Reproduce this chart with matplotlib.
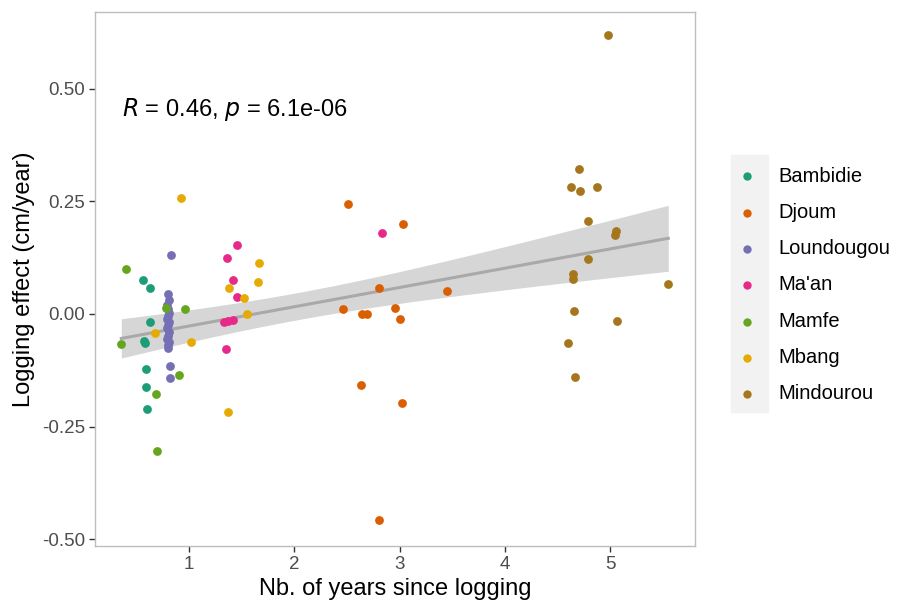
import numpy as np
import matplotlib as mpl
import matplotlib.pyplot as plt
from matplotlib.patches import Rectangle
mpl.use('agg')

plt.rcParams['font.family'] = ['Liberation Sans', 'DejaVu Sans']

##--##--  data  --##--##
sites = ['Bambidie', 'Djoum', 'Loundougou', "Ma'an", 'Mamfe', 'Mbang', 'Mindourou']
site_colors = ['#1B9E77', '#D95F02', '#7570B3', '#E7298A', '#66A61E', '#E6AB02', '#A6761D']

bambidie_x = [0.561, 0.631, 0.631, 0.580, 0.575, 0.586, 0.586, 0.599]
bambidie_y = [0.075, 0.058, -0.018, -0.064, -0.060, -0.122, -0.162, -0.210]

djoum_x = [2.513, 3.029, 2.804, 3.451, 2.459, 2.640, 2.690, 2.956, 3.007, 2.633, 3.020, 2.801]
djoum_y = [0.243, 0.199, 0.058, 0.050, 0.010, -0.001, -0.001, 0.013, -0.011, -0.158, -0.198, -0.458]

loundougou_x = [0.827, 0.80, 0.81, 0.79, 0.80, 0.81, 0.80, 0.79, 0.81, 0.80, 0.79, 0.81,
                0.80, 0.79, 0.81, 0.80, 0.80, 0.814, 0.814]
loundougou_y = [0.130, 0.045, 0.030, 0.020, 0.010, 0.003, -0.005, -0.012, -0.018, -0.025,
                -0.032, -0.040, -0.048, -0.055, -0.062, -0.070, -0.075, -0.115, -0.143]

maan_x = [1.454, 1.362, 1.419, 1.454, 1.334, 1.372, 1.413, 1.347, 2.833]
maan_y = [0.152, 0.124, 0.075, 0.038, -0.017, -0.015, -0.013, -0.077, 0.179]

mamfe_x = [0.402, 0.779, 0.957, 0.355, 0.906, 0.681, 0.694]
mamfe_y = [0.099, 0.014, 0.012, -0.066, -0.136, -0.178, -0.305]

mbang_x = [0.919, 1.667, 1.657, 1.375, 1.521, 1.546, 0.678, 1.020, 1.366]
mbang_y = [0.258, 0.112, 0.071, 0.058, 0.036, -0.001, -0.043, -0.063, -0.218]

mindourou_x = [4.978, 4.702, 4.632, 4.715, 4.879, 4.788, 5.060, 5.050, 4.794, 4.645, 4.645,
               5.554, 4.655, 5.063, 4.604, 4.668]
mindourou_y = [0.618, 0.321, 0.282, 0.273, 0.282, 0.206, 0.183, 0.175, 0.121, 0.089, 0.077,
               0.067, 0.007, -0.015, -0.065, -0.139]

xs = [bambidie_x, djoum_x, loundougou_x, maan_x, mamfe_x, mbang_x, mindourou_x]
ys = [bambidie_y, djoum_y, loundougou_y, maan_y, mamfe_y, mbang_y, mindourou_y]

x_ticks = [1, 2, 3, 4, 5]
y_ticks = [-0.50, -0.25, 0.00, 0.25, 0.50]
y_ticklabels = ['-0.50', '-0.25', '0.00', '0.25', '0.50']

## linear fit + 95% confidence band
all_x = np.concatenate([np.array(v) for v in xs])
all_y = np.concatenate([np.array(v) for v in ys])
n = len(all_x)
slope, icpt = np.polyfit(all_x, all_y, 1)
resid = all_y - (icpt + slope * all_x)
s_err = np.sqrt(np.sum(resid ** 2) / (n - 2))
xx = np.linspace(all_x.min(), all_x.max(), 100)
yy = icpt + slope * xx
se = s_err * np.sqrt(1.0 / n + (xx - all_x.mean()) ** 2 / np.sum((all_x - all_x.mean()) ** 2))
t_crit = 1.99


##--##--##--  create figure  --##--##--##
fig = plt.figure(figsize=(8.99, 6.01), dpi=100)
ax = fig.add_axes([95 / 899, 1 - 546 / 601, 600 / 899, 534 / 601])

ax.fill_between(xx, yy - t_crit * se, yy + t_crit * se, color='#D6D6D6', lw=0, zorder=1)
ax.plot(xx, yy, color='#A9A9A9', lw=2.2, zorder=2)

for name, col, x, y in zip(sites, site_colors, xs, ys):
    ax.scatter(x, y, s=40, color=col, lw=0, label=name, zorder=3)

ax.set_xlim(0.105, 5.808)
ax.set_ylim(-0.515, 0.670)
ax.set_xticks(x_ticks)
ax.set_yticks(y_ticks)
ax.set_yticklabels(y_ticklabels)
ax.tick_params(axis='both', length=4, width=1.0, color='#333333', labelcolor='#4D4D4D',
               labelsize=13.5, pad=3)
for sp in ax.spines.values():
    sp.set_color('#BDBDBD')
    sp.set_linewidth(1.0)

ax.set_xlabel('Nb. of years since logging', fontsize=17, labelpad=4)
ax.set_ylabel('Logging effect (cm/year)', fontsize=17, labelpad=5)

ax.text(0.045, 0.817, r'$\it{R}$ = 0.46, $\it{p}$ = 6.1e-06', transform=ax.transAxes,
        fontsize=17, va='center', ha='left')

## legend, with grey key column
fig.patches.append(Rectangle((731 / 899, 1 - 412 / 601), 37 / 899, 257 / 601,
                             transform=fig.transFigure, color='#F2F2F2', zorder=0))
leg = fig.legend(loc='center left', bbox_to_anchor=(731 / 899, 1 - 285 / 601), frameon=False,
                 fontsize=14.5, handlelength=0.6, handletextpad=1.25, labelspacing=0.86,
                 borderpad=0, markerscale=0.95)

fig.savefig('out.png', dpi=100)
